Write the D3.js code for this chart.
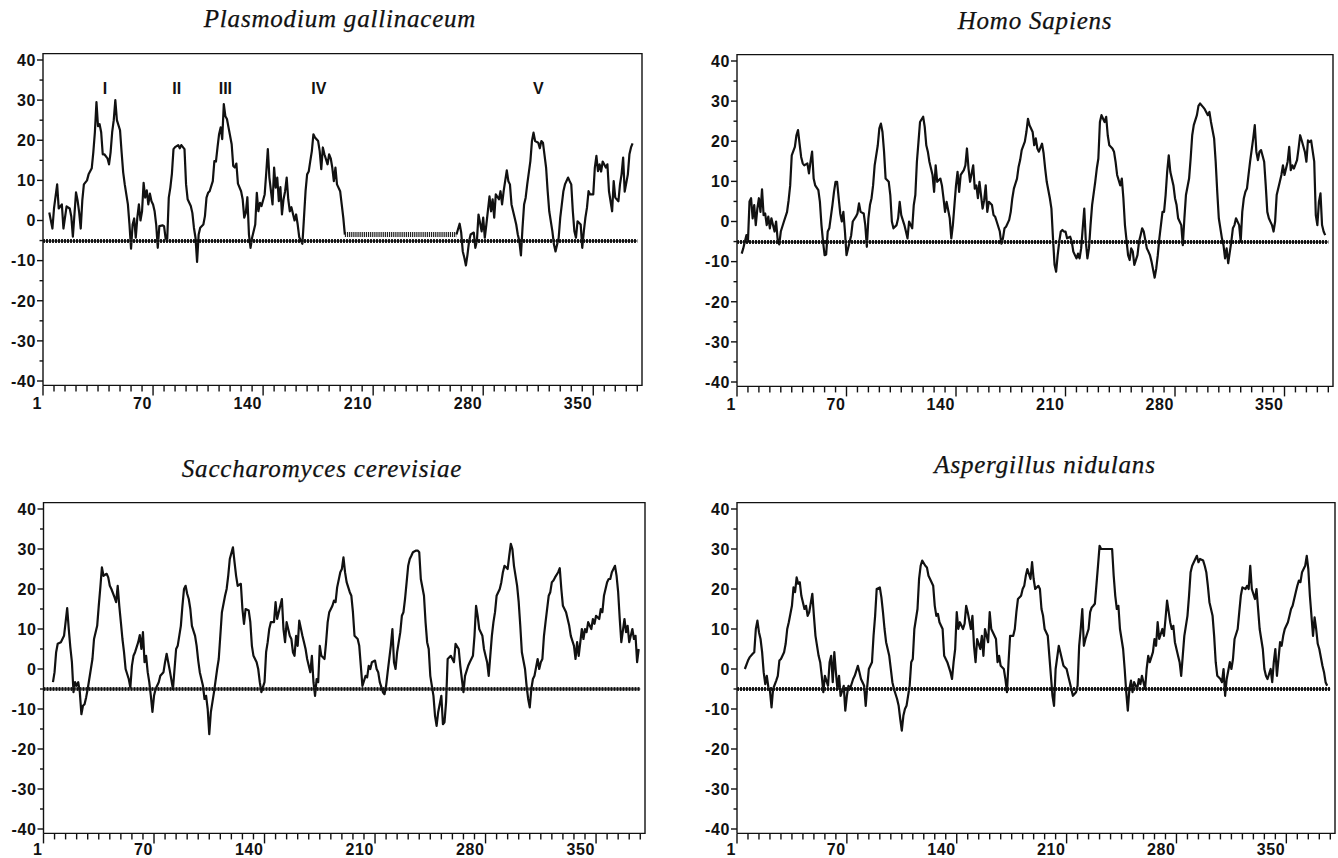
<!DOCTYPE html>
<html>
<head>
<meta charset="utf-8">
<script src="https://cdn.jsdelivr.net/npm/d3@7/dist/d3.min.js"></script>
<style>
  body { margin: 0; background: #fff; }
  .tick-label { font-family: "Liberation Sans", Arial, sans-serif; font-size: 16px; font-weight: bold; letter-spacing: 0.6px; fill: #111; }
  .domain-label { font-family: "Liberation Sans", Arial, sans-serif; font-size: 16px; font-weight: bold; fill: #111; }
  .title { font-family: "Liberation Serif", "Times New Roman", serif; font-style: italic; font-size: 25px; letter-spacing: 0.8px; fill: #111; stroke: #111; stroke-width: 0.25px; }
</style>
</head>
<body>
<svg id="chart"></svg>
<script>
// panel titles
const titles = ["Plasmodium gallinaceum", "Homo Sapiens", "Saccharomyces cerevisiae", "Aspergillus nidulans"];

// hydropathy profiles: [residue, value]; null = no data
const plasmodium = [[4,2],[6,-2],[7,3],[9,9],[10,3],[12,4],[13,-2],[15,3.5],[17,3],[18,1],[19,-4],[21,7],[22,5],[23,2],[24,-2],[25,5],[26,9],[28,10],[29,11.5],[31,13],[32,17],[33,22],[34,29.5],[35,23.5],[36,24],[37,22],[38,16.5],[39,16.5],[41,15.5],[42,14],[43,17],[44,22],[45,25],[46,30],[47,25],[49,22.5],[50,17],[51,12],[52,9],[54,4],[55,-1],[56,-7],[57,-1],[58,0.5],[59,-4.3],[60,0.7],[61,4],[62,0],[63,2.3],[64,9.4],[65,5.7],[66,7.5],[67,4],[68,6.7],[69,4.8],[70,4],[71,2.3],[72,-1],[73,-6.8],[74,-1.4],[76,-1.2],[77,-1.4],[78,-4.5],[79,-4.8],[80,5.7],[81,8.2],[82,11.7],[83,17.8],[84,18.3],[86,18.8],[87,18],[88,18.8],[90,17.8],[91,9],[92,5.3],[94,3.6],[95,1.9],[96,-1.8],[97,-4.3],[98,-10.3],[99,-3.5],[100,-1.8],[102,-1],[103,1.1],[104,5.7],[105,6.9],[106,7.3],[108,9.8],[109,14.8],[110,14.7],[111,18.2],[112,21.5],[113,23.2],[114,20.3],[115,29],[116,26],[117,25.3],[118,23.2],[120,19],[121,13.6],[122,13.2],[123,14.2],[124,9.2],[126,7.3],[127,5.3],[128,0.7],[129,1.9],[130,5.8],[131,-3.5],[132,-6.8],[133,-4.3],[135,-1],[136,6.9],[137,2.3],[138,4.4],[139,3.6],[141,6.5],[142,11.9],[143,17.8],[144,10.7],[145,7.3],[146,4],[147,13.2],[148,8.2],[149,10.7],[150,4.8],[151,8.3],[152,1.5],[153,5.3],[154,7.3],[155,10.7],[156,5.3],[157,2.3],[158,3.3],[160,0],[161,1.5],[162,-1],[163,-4.2],[165,-5.8],[166,0.7],[167,7.3],[168,11.5],[169,12.2],[170,14.8],[171,17.3],[172,21.5],[173,20.7],[175,19.8],[176,17.3],[177,12.8],[178,18.2],[179,16.5],[181,14],[182,16.5],[183,15.5],[184,13.2],[185,9.8],[186,13.2],[187,9],[189,7.3],[190,4],[191,0.7],[192,-3.5],[228,null],[263,-3.5],[265,-0.8],[266,-3],[267,-7.7],[268,-9.3],[269,-11.2],[270,-8.5],[271,-5.2],[272,-3.5],[274,-3],[275,-6.8],[276,-5],[277,1.5],[279,-2.7],[280,0.7],[281,-4.3],[282,-1],[284,6],[285,2.3],[286,5.3],[287,0.7],[288,6.5],[290,5.3],[291,7.3],[292,4],[293,7.3],[295,12.5],[296,9.8],[297,9],[298,4],[300,0.7],[301,-1],[302,-3.5],[303,-5.2],[304,-8.7],[305,-1.8],[306,4],[307,5.7],[308,9],[310,14.8],[311,19.8],[312,21.9],[313,19.8],[315,19.4],[316,18],[317,19.8],[318,19.4],[320,13.2],[321,7.3],[322,2.3],[324,-2.7],[325,-6],[326,-7.7],[328,-4.3],[329,0.7],[330,4],[331,7.3],[332,9],[334,10.7],[335,9.8],[336,9],[337,2.3],[338,-2.7],[339,-4.3],[340,-0.2],[342,-1],[343,-6.8],[344,-2.7],[345,0.7],[346,3.2],[347,7.3],[348,6.5],[350,6.5],[351,13.2],[352,16.1],[353,12.3],[354,14],[355,12.2],[356,14.7],[358,13.2],[359,14],[360,7.3],[362,2.3],[363,9.8],[364,5.7],[366,4.8],[367,9],[368,11.5],[369,15.7],[370,7.2],[372,11.5],[373,16.5],[374,18.2],[375,19.2]];

const homo = [[3,-8],[4,-6.7],[6,-3.4],[7,-5],[8,5],[9,5.8],[10,0.8],[11,4.1],[12,-0.9],[13,3.2],[14,5.8],[15,2.4],[16,8],[17,1.6],[18,2],[19,-0.9],[20,1.2],[21,-1.7],[22,0.8],[23,-0.9],[24,-2.5],[25,0],[26,-4.6],[27,-5.7],[28,-2.5],[30,0],[32,2.4],[33,5.3],[34,9],[35,16.5],[37,18.6],[38,21.5],[39,22.8],[40,19.4],[41,16.1],[42,14.5],[43,14],[45,14.5],[46,12],[47,14.9],[48,17.4],[49,10.7],[50,9],[52,7.8],[53,4.9],[54,-0.9],[55,-5],[56,-8.4],[57,-8.2],[58,-2.5],[59,-1.7],[61,4.1],[62,7.4],[63,9.9],[64,9.9],[65,5.8],[66,2],[67,0],[68,2.4],[69,-2.5],[70,-8.4],[71,-6.7],[73,-3.4],[74,0],[76,1.2],[77,2],[78,4.5],[79,2.4],[81,2],[82,-0.9],[83,-6.3],[84,0.8],[85,4.1],[86,5.8],[87,9],[88,14],[90,19],[91,23.2],[92,24.4],[93,22.3],[94,17.4],[95,10.7],[97,9.9],[98,6.6],[99,0],[100,-1.7],[102,-0.9],[103,0.8],[104,4.9],[105,1.6],[107,-0.9],[108,-2.5],[109,-4.2],[110,0],[112,-1.7],[113,4.1],[114,6.6],[115,14.9],[116,19.8],[117,24.8],[119,26.1],[120,23.6],[121,19],[122,17.4],[123,14.9],[125,11.6],[126,7.4],[127,14],[128,9.9],[130,10.7],[131,9],[132,5.8],[133,2.4],[134,4.9],[136,0.8],[137,-4.2],[138,-0.9],[139,4.1],[140,9],[141,12.4],[142,7.4],[143,11.6],[145,12.8],[146,14],[147,18.2],[148,13.2],[149,9.9],[151,14],[152,8.2],[153,9],[154,5.8],[155,9.9],[157,3.2],[158,5.3],[159,9],[160,2.4],[161,4.9],[163,4.1],[164,1.6],[165,1.2],[166,0],[168,-2.5],[169,-5.5],[170,-4.2],[171,-1.7],[172,-1.3],[174,0.4],[175,2.4],[176,5.8],[177,8.2],[179,10.7],[180,13.6],[181,15.3],[182,17.8],[184,19.9],[185,22.3],[186,25.6],[187,24],[189,22.3],[190,19],[191,20.7],[192,18.2],[193,17.4],[195,19.4],[196,17],[197,13.2],[198,9.9],[200,5.8],[201,3.2],[202,-4.2],[203,-10.8],[204,-12.5],[205,-8.4],[206,-5],[207,-2.5],[208,-2.1],[209,-2.5],[210,-2.5],[211,-4.2],[213,-3.8],[214,-5],[215,-7.5],[217,-9.2],[218,-8],[219,-9.2],[220,-6.7],[221,-1.7],[222,3.2],[223,-5],[224,-9.2],[225,-6.7],[226,-0.9],[227,4.1],[229,9.9],[230,13.2],[231,15.7],[232,24.8],[233,26.5],[235,24.8],[236,26.1],[237,21.5],[238,19],[240,18.2],[241,17.4],[242,14.9],[243,11.6],[245,9],[246,10.7],[247,5.8],[248,-0.9],[250,-8.4],[251,-9.6],[252,-6.7],[253,-7.5],[254,-10.8],[256,-8.4],[257,-5],[258,-3.4],[259,-1.7],[260,-2.5],[262,-6.7],[263,-7.5],[264,-8.4],[265,-10],[267,-14],[268,-11.7],[269,-8.4],[270,-4.2],[272,2.4],[273,2.4],[274,6.6],[275,12.4],[276,16.5],[277,12.4],[279,9],[280,5.8],[281,4.1],[282,0.8],[284,-0.9],[285,-5.9],[286,0.8],[287,6.6],[289,10.7],[290,15.7],[291,21.5],[292,24],[294,26.5],[295,28.8],[296,29.4],[298,28.5],[299,28],[301,26.5],[302,27.3],[303,24.8],[305,20.7],[306,14.9],[307,7.4],[308,0.8],[310,-4.2],[311,-5.9],[312,-9.2],[313,-6.7],[314,-10.4],[316,-5],[317,-1.7],[318,-0.9],[319,0.8],[321,-0.9],[322,-5],[323,2.4],[324,5.8],[325,7.4],[326,8.2],[327,11.6],[328,14.9],[330,20.7],[331,24],[332,17.4],[333,15.3],[334,17.4],[335,17.8],[337,14.9],[338,9],[339,2.4],[340,0.8],[342,-0.9],[343,-2.5],[344,0],[345,6.6],[347,9.9],[348,11.6],[349,14],[350,11.6],[352,14.9],[353,18.6],[354,12.8],[355,14],[356,13.2],[358,15.3],[359,18.2],[360,21.5],[361,20.2],[363,17.4],[364,14.9],[365,20.2],[366,19.8],[367,20.2],[369,14.9],[370,1.6],[371,-0.9],[372,4.9],[373,7],[374,-0.9],[375,-2.5],[376,-3.4]];

const saccharomyces = [[6,-3.3],[7,-0.8],[8,4.2],[9,6.3],[11,6.7],[13,8.3],[14,11.7],[15,15.2],[16,10],[17,5.4],[18,1.7],[19,-5.8],[20,-3.3],[21,-4.2],[22,-3.3],[23,-5.8],[24,-11.3],[25,-9.2],[26,-8.8],[27,-7.1],[28,-5],[30,0],[31,2.5],[32,7.5],[34,10.8],[35,15.8],[36,20.4],[37,25.4],[38,23.3],[40,23.8],[41,22.9],[42,20.8],[43,20],[45,17.9],[46,16.7],[47,20.8],[48,15.8],[49,11.7],[50,7.5],[51,4.2],[52,0],[54,-2.5],[55,-4.6],[56,0.8],[57,3.3],[58,4.2],[60,6.7],[61,8.5],[62,5],[63,9.2],[64,1.7],[65,3.3],[66,-0.8],[67,-3.3],[68,-6.7],[69,-10.7],[70,-6.7],[71,-5],[73,-3.3],[74,-1.7],[76,-0.8],[77,1.7],[78,3.8],[79,1.7],[80,-0.4],[82,-5],[83,0],[84,5],[85,5.8],[87,10.8],[88,15.8],[89,20],[90,20.8],[91,18.8],[92,17.5],[93,15],[94,10.8],[96,8.3],[97,5.8],[98,2.1],[99,-0.8],[101,-4.2],[102,-7.5],[103,-6.7],[104,-10],[105,-16.3],[106,-10.8],[107,-8.3],[108,-5.8],[110,0],[111,2.5],[112,8.3],[113,14.2],[115,18.3],[116,20],[117,23.3],[118,27.5],[120,30.4],[121,26.7],[122,23.3],[123,20.8],[125,21.3],[126,15],[127,11.3],[128,15],[130,14.6],[131,11.7],[132,5.8],[133,3.3],[135,1.7],[136,0],[137,-3.3],[138,-5.8],[140,-3.3],[141,4.2],[142,6.7],[143,10],[144,11.7],[146,11.7],[147,16.7],[148,12.5],[149,14.2],[151,17.5],[152,10],[153,6.7],[154,11.7],[156,8.3],[157,7.5],[158,4.2],[159,3.3],[160,8.3],[161,5.8],[162,12.1],[164,8.3],[165,6.7],[166,5],[167,2.5],[169,-0.8],[170,3.3],[171,-3.3],[172,-6.7],[173,-2.5],[174,-3.3],[175,5.8],[176,3.3],[178,2.5],[179,6.7],[180,11.7],[181,14.2],[183,15.8],[184,17.1],[185,16.7],[186,20.4],[188,24.2],[189,25],[190,27.9],[191,24.2],[192,21.7],[194,19.2],[195,18.3],[196,14.2],[197,8.3],[199,7.5],[200,5.8],[201,0.8],[202,-4.2],[204,-1.7],[205,-2.1],[206,0.8],[207,0],[208,1.7],[210,2.1],[211,0],[212,-0.8],[213,-3.3],[215,-5.8],[216,-6.3],[217,-4.2],[218,-0.8],[220,5.8],[221,10],[222,1.7],[223,0],[224,4.2],[225,6.7],[226,9.2],[227,13.3],[228,14.2],[229,17.5],[231,25.8],[232,27.5],[233,28.3],[234,29.2],[236,29.6],[237,29.6],[238,29.2],[239,22.5],[241,18.3],[242,11.7],[243,6.7],[244,5],[245,-1.7],[247,-6.7],[248,-11.7],[249,-14.2],[250,-10.8],[252,-6.7],[253,-13.8],[254,-13.3],[255,-8.3],[256,2.5],[258,3.3],[260,1.7],[261,6.3],[263,5],[264,0.8],[265,-2.5],[266,-5.8],[267,-1.7],[269,0.8],[270,1.7],[272,3.3],[273,8.3],[274,15.8],[275,13.3],[276,10],[278,8.3],[279,5],[280,3.3],[281,1.7],[282,-1.7],[284,8.3],[285,11.7],[286,14.2],[287,18.3],[289,20],[290,21.7],[291,24.2],[292,25.8],[294,25],[295,28.3],[296,31.3],[297,30],[298,25.8],[300,20.8],[301,16.7],[302,10.8],[303,4.2],[305,0],[306,-4.2],[307,-7.5],[308,-9.6],[309,-5],[310,-2.5],[311,-1.7],[313,2.5],[314,0],[315,1.7],[316,2.5],[317,8.3],[318,11.7],[320,18.3],[321,19.2],[322,21.7],[323,22.1],[324,22.9],[326,24.2],[327,25.2],[328,20],[329,15.8],[331,14.2],[332,12.5],[333,10.8],[334,8.3],[336,5.8],[337,2.5],[338,6.7],[339,3.3],[341,10],[342,7.5],[343,10],[344,9.2],[345,11.7],[347,10],[348,12.5],[349,11.3],[350,13.3],[352,12.5],[353,15],[354,14.2],[355,18.3],[357,21.7],[358,22.5],[359,22.5],[360,24.2],[362,25.8],[363,23.3],[364,19.2],[365,12.5],[366,6.7],[368,12.5],[369,9.2],[370,10.8],[371,6.7],[373,10],[374,7.5],[375,8.3],[376,1.7],[377,5]];

const aspergillus = [[5,0],[7,2.1],[8,2.9],[10,3.8],[11,4.2],[12,10],[13,12.1],[14,9.2],[15,7.5],[16,4.2],[17,-0.8],[18,-3.8],[19,-1.7],[20,-4.6],[21,-5.4],[22,-9.6],[23,-5],[25,-2.9],[26,-1.7],[27,2.1],[28,2.5],[30,4.2],[31,6.3],[32,10],[33,11.7],[35,15.8],[36,20.4],[37,19.2],[38,22.9],[39,21.3],[40,21.7],[41,18.3],[43,15],[44,15.8],[45,13.3],[46,14.2],[48,18.8],[49,13.3],[50,8.3],[51,5.8],[52,3.3],[53,1.7],[54,-1.7],[55,-5.8],[56,-1.7],[58,-4.2],[59,1.7],[60,3.3],[61,-3.3],[62,4.2],[63,-0.8],[64,-5],[65,-1.7],[66,-6.7],[68,-4.2],[69,-10.4],[70,-6.7],[71,-4.2],[72,-5],[74,-2.5],[75,-1.7],[77,0.8],[78,-0.8],[79,-2.5],[81,-4.2],[82,-9.2],[83,-4.2],[84,0],[86,1.7],[87,8.3],[88,13.3],[89,20],[91,20.4],[92,17.9],[93,14.2],[94,10],[95,6.7],[97,3.3],[98,0],[99,-3.3],[100,-5],[102,-7.5],[103,-9.2],[104,-12.5],[105,-15.4],[106,-11.7],[107,-10],[108,-9.2],[110,-4.2],[111,1.7],[112,2.5],[113,10],[115,15],[116,22.5],[117,25.8],[118,27.1],[120,25.8],[121,25.4],[122,23.3],[123,22.5],[125,20.8],[126,15.8],[127,13.3],[128,13.8],[129,11.7],[131,10],[132,3.3],[133,2.5],[134,1.7],[136,-0.8],[137,-2.5],[138,1.7],[139,5],[140,14.2],[141,10],[142,11.7],[144,10],[145,11.3],[146,15.8],[147,14.2],[149,10],[150,13.3],[151,5.8],[152,1.7],[153,7.5],[155,5],[156,8.3],[157,3.3],[158,10],[160,6.7],[161,14.2],[162,10],[163,9.2],[165,7.5],[166,1.7],[167,3.3],[168,0.8],[170,0],[171,-2.5],[172,-5.8],[173,1.7],[174,8.3],[176,8.3],[177,10],[178,14.2],[179,17.5],[181,18.3],[182,20],[183,20.8],[184,23.3],[185,25],[187,22.5],[188,26.7],[189,22.5],[190,20],[192,20.8],[193,20],[194,15],[195,13.3],[196,10],[198,8.3],[199,3.3],[200,-1.7],[201,-6.7],[202,-9.2],[203,0],[205,5.8],[206,4.2],[207,2.5],[208,0.8],[210,0],[211,-1.7],[212,-3.3],[213,-5],[214,-6.7],[216,-5.8],[217,-4.2],[218,5.8],[219,10],[220,15],[221,5.8],[222,7.5],[224,10],[225,14.2],[226,15.4],[227,15.8],[228,16.3],[230,25.8],[231,30.8],[232,30],[235,30],[237,30],[239,30],[240,23.3],[241,18.3],[242,15],[243,15.8],[244,10],[246,5],[247,0],[248,-5.8],[249,-10.4],[250,-5],[251,-2.9],[252,-5.8],[253,-3.3],[255,-5],[256,-2.5],[257,-3.8],[258,-1.7],[260,-5],[261,0],[262,3.3],[263,1.7],[265,4.2],[266,7.5],[267,5.8],[268,11.7],[269,7.5],[271,10],[272,8.3],[273,12.5],[274,17.1],[276,11.7],[277,10],[278,10.8],[279,6.7],[281,3.3],[282,1.7],[283,-1.7],[284,3.3],[285,8.3],[287,13.3],[288,18.3],[289,24.2],[290,25.8],[292,27.5],[293,28.3],[294,26.7],[295,27.5],[297,27.1],[298,25.8],[299,24.2],[300,20.8],[301,16.7],[303,13.3],[304,8.3],[305,1.7],[306,-1.7],[308,-2.5],[309,-3.3],[310,0],[311,-6.7],[312,-2.5],[314,1.7],[315,0],[316,2.5],[317,7.5],[319,10],[320,14.2],[321,18.3],[322,20.4],[324,20],[325,20.8],[326,20],[327,25.8],[328,20],[330,17.5],[331,20],[332,15],[333,10],[335,5],[336,0],[337,-1.7],[338,-2.5],[340,0],[341,-3.3],[342,1.7],[343,5],[344,-1.7],[346,6.7],[347,5.8],[348,8.3],[349,10],[351,11.7],[352,13.3],[353,15],[354,15.8],[356,19.2],[357,20.8],[358,22.1],[359,21.7],[360,24.2],[362,25.8],[363,28.3],[364,25],[365,18.3],[367,8.3],[368,12.9],[369,10],[370,6.3],[371,5],[373,0.8],[374,-0.8],[375,-3.3],[376,-4.2]];

// threshold line and the unaligned stretch of the Plasmodium sequence
const threshold = -5;
const thresholdSpan = [0, 378];
const gapSpan = [192, 263];
const gapValue = -3.5;

// hydrophobic segments marked on the Plasmodium panel
const segmentLabels = ["I", "II", "III", "IV", "V"];
const segmentPos = [39.5, 85, 116, 175.5, 315];

// axis ticks
const yTicks = d3.range(-40, 41, 5);
const xTicks = d3.range(0, 379, 7);
const xTickLabels = {0: "1", 70: "70", 140: "140", 210: "210", 280: "280", 350: "350"};

const svgWidth = 1338, svgHeight = 858;

const chart = d3.select('#chart')
    .attr("width", svgWidth)
    .attr("height", svgHeight)
    .style("background", "#fff");

// panel placement
const panels = [
  {title: titles[0], data: plasmodium, left: 43, right: 642, y40: 60, ym40: 381, titleX: 340, titleY: 27, labelDy: 24, marks: true},
  {title: titles[1], data: homo, left: 737, right: 1333, y40: 61, ym40: 382, titleX: 1035, titleY: 29, labelDy: 24},
  {title: titles[2], data: saccharomyces, left: 43.5, right: 645, y40: 509, ym40: 829, titleX: 322, titleY: 477, labelDy: 22},
  {title: titles[3], data: aspergillus, left: 737, right: 1335, y40: 509, ym40: 829, titleX: 1045, titleY: 473, labelDy: 22}
];

panels.forEach(drawPanel);

function drawPanel(p) {
  const xScale = d3.scaleLinear().domain([0, 381]).range([p.left, p.right]);
  const yScale = d3.scaleLinear().domain([-40, 40]).range([p.ym40, p.y40]);
  const top = yScale(41.6), bottom = yScale(-41.1);
  const g = chart.append("g");

  g.append("text")
    .attr("class", "title")
    .attr("x", p.titleX)
    .attr("y", p.titleY)
    .attr("text-anchor", "middle")
    .text(p.title);

  // frame
  g.append("path")
    .attr("d", `M${p.left},${bottom}V${top}H${p.right}V${bottom}H${p.left}`)
    .attr("fill", "none")
    .attr("stroke", "#111")
    .attr("stroke-width", 1.4);

  // y axis ticks
  g.selectAll(".ytick").data(yTicks).enter().append("line")
    .attr("x1", d => p.left - (d % 10 === 0 ? 6 : 3.5))
    .attr("x2", p.left)
    .attr("y1", d => yScale(d)).attr("y2", d => yScale(d))
    .attr("stroke", "#111").attr("stroke-width", 1.4);

  g.selectAll(".ylabel").data(yTicks.filter(d => d % 10 === 0)).enter().append("text")
    .attr("class", "tick-label")
    .attr("x", p.left - 7)
    .attr("y", d => yScale(d))
    .attr("dy", "0.36em")
    .attr("text-anchor", "end")
    .text(d => d);

  // x axis ticks
  g.selectAll(".xtick").data(xTicks).enter().append("line")
    .attr("x1", d => xScale(d)).attr("x2", d => xScale(d))
    .attr("y1", bottom)
    .attr("y2", d => bottom + (d % 70 === 0 ? 10 : 6))
    .attr("stroke", "#111").attr("stroke-width", 1.4);

  g.selectAll(".xlabel").data(Object.keys(xTickLabels).map(Number)).enter().append("text")
    .attr("class", "tick-label")
    .attr("x", d => xScale(d) - 1)
    .attr("y", bottom + p.labelDy)
    .attr("text-anchor", "end")
    .text(d => xTickLabels[d]);

  // profile
  const valueline = d3.line()
    .defined(d => d[1] !== null)
    .x(d => xScale(d[0]))
    .y(d => yScale(d[1]));

  g.append("path")
    .datum(p.data)
    .attr("d", valueline)
    .attr("fill", "none")
    .attr("stroke", "#111")
    .attr("stroke-width", 2.2)
    .attr("stroke-linejoin", "round");

  // threshold line
  const ty = Math.round(yScale(threshold));
  g.append("line")
    .attr("x1", xScale(thresholdSpan[0])).attr("x2", xScale(thresholdSpan[1]))
    .attr("y1", ty).attr("y2", ty)
    .attr("stroke", "#222").attr("stroke-width", 4)
    .attr("stroke-dasharray", "2,1");
  g.append("line")
    .attr("x1", xScale(thresholdSpan[0])).attr("x2", xScale(thresholdSpan[1]))
    .attr("y1", ty).attr("y2", ty)
    .attr("stroke", "#000").attr("stroke-width", 1.2);

  if (p.marks) {
    g.append("line")
      .attr("x1", xScale(gapSpan[0])).attr("x2", xScale(gapSpan[1]))
      .attr("y1", yScale(gapValue)).attr("y2", yScale(gapValue))
      .attr("stroke", "#222").attr("stroke-width", 5)
      .attr("stroke-dasharray", "1.2,0.9");

    g.selectAll(".seg").data(segmentLabels).enter().append("text")
      .attr("class", "domain-label")
      .attr("x", (d, i) => xScale(segmentPos[i]))
      .attr("y", yScale(31.6))
      .attr("text-anchor", "middle")
      .text(d => d);
  }
}
</script>
</body>
</html>
